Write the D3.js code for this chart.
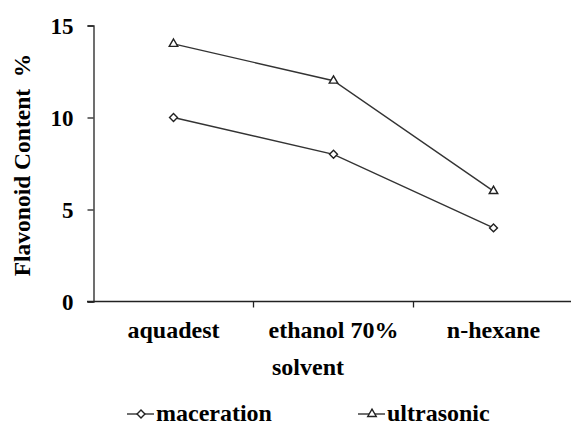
<!DOCTYPE html>
<html>
<head>
<meta charset="utf-8">
<script src="https://cdn.jsdelivr.net/npm/d3@7"></script>
<style>
  body { margin: 0; background: #fff; }
  svg text { font-family: "Times New Roman", Times, "Liberation Serif", "DejaVu Serif", serif !important; font-weight: bold; fill: #000; }
</style>
</head>
<body>
<div id="chart"></div>
<script>
var width = 571;
var height = 425;

var solvents = ["aquadest", "ethanol 70%", "n-hexane"];
var maceration = [10, 8, 4];
var ultrasonic = [14, 12, 6];
var yTicks = [0, 5, 10, 15];

var svg = d3.select("#chart")
  .append("svg")
  .attr("width", width)
  .attr("height", height);

var scaleX = d3.scaleBand().domain(solvents).range([93.5, 573.5]);
var scaleY = d3.scaleLinear().domain([0, 15]).range([301.5, 25.5]);

// y axis
var axisY = d3.axisLeft(scaleY).tickValues(yTicks).tickSize(6).tickPadding(8);
var gy = svg.append("g")
  .attr("transform", "translate(93.5,0)")
  .call(axisY);
gy.attr("font-family", null);
gy.select(".domain").attr("stroke", "#222").attr("stroke-width", 1.3);
gy.selectAll(".tick line").attr("stroke", "#222").attr("stroke-width", 1.3);
gy.selectAll(".tick text")
  .style("font-size", "23px")
  .attr("dy", "0.35em")
  .attr("x", -20);

// x axis: ticks on band edges
var gx = svg.append("g").attr("transform", "translate(0,301.5)");
gx.append("line")
  .attr("x1", 87).attr("x2", width)
  .attr("stroke", "#222").attr("stroke-width", 1.3);
gx.selectAll("line.tk")
  .data(solvents.slice(1))
  .enter()
  .append("line")
  .attr("class", "tk")
  .attr("x1", function (d) { return scaleX(d); })
  .attr("x2", function (d) { return scaleX(d); })
  .attr("y1", 0).attr("y2", 6)
  .attr("stroke", "#222").attr("stroke-width", 1.3);
gx.selectAll("text")
  .data(solvents)
  .enter()
  .append("text")
  .attr("x", function (d) { return scaleX(d) + scaleX.bandwidth() / 2; })
  .attr("y", 36)
  .attr("text-anchor", "middle")
  .style("font-size", "24px")
  .text(function (d) { return d; });

// titles
svg.append("text")
  .attr("x", 308).attr("y", 375)
  .attr("text-anchor", "middle")
  .style("font-size", "24px")
  .text("solvent");

svg.append("text")
  .attr("transform", "translate(30,165) rotate(-90)")
  .attr("text-anchor", "middle")
  .style("font-size", "23.5px")
  .style("white-space", "pre")
  .text("Flavonoid Content  %");

// series
var cx = function (i) { return scaleX(solvents[i]) + scaleX.bandwidth() / 2; };
var line = d3.line()
  .x(function (d, i) { return cx(i); })
  .y(function (d) { return scaleY(d); });

var diamond = d3.symbol().type(d3.symbolDiamond2).size(40);
var triangle = d3.symbol().type(d3.symbolTriangle2).size(52);

function drawSeries(values, sym) {
  svg.append("path")
    .datum(values)
    .attr("d", line)
    .attr("fill", "none")
    .attr("stroke", "#333")
    .attr("stroke-width", 1.4);
  svg.selectAll(null)
    .data(values)
    .enter()
    .append("path")
    .attr("d", sym)
    .attr("transform", function (d, i) { return "translate(" + cx(i) + "," + scaleY(d) + ")"; })
    .attr("fill", "#fff")
    .attr("stroke", "#222")
    .attr("stroke-width", 1.4);
}
drawSeries(maceration, diamond);
drawSeries(ultrasonic, triangle);

// legend
var legend = [
  { name: "maceration", sym: diamond, x: 127 },
  { name: "ultrasonic", sym: triangle, x: 358 }
];
var lg = svg.selectAll("g.leg")
  .data(legend)
  .enter()
  .append("g")
  .attr("class", "leg")
  .attr("transform", function (d) { return "translate(" + d.x + ",414)"; });
lg.append("line")
  .attr("x1", 0).attr("x2", 27)
  .attr("stroke", "#333").attr("stroke-width", 1.4);
lg.append("path")
  .attr("d", function (d) { return d.sym(); })
  .attr("transform", "translate(14,0)")
  .attr("fill", "#fff")
  .attr("stroke", "#222")
  .attr("stroke-width", 1.4);
lg.append("text")
  .attr("x", 29).attr("y", 7)
  .style("font-size", "24px")
  .text(function (d) { return d.name; });
</script>
</body>
</html>
